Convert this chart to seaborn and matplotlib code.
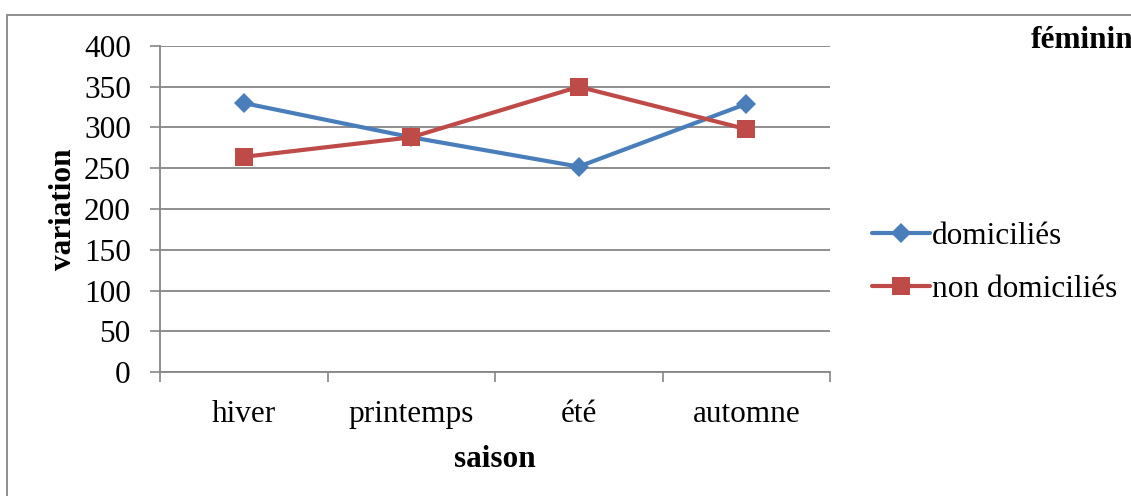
import matplotlib
matplotlib.use("Agg")
import matplotlib.pyplot as plt
import seaborn as sns
import pandas as pd
from matplotlib.patches import Rectangle

saisons = ["hiver", "printemps", "été", "automne"]
domicilies = [330, 288, 252, 329]
non_domicilies = [264, 288, 350, 298]
series_names = ["domiciliés", "non domiciliés"]
y_ticks = [0, 50, 100, 150, 200, 250, 300, 350, 400]

df = pd.DataFrame({
    "saison": saisons * 2,
    "variation": domicilies + non_domicilies,
    "type": [series_names[0]] * 4 + [series_names[1]] * 4,
})

sns.set_style("white")
plt.rcParams["font.family"] = ["Liberation Serif", "DejaVu Serif"]
plt.rcParams["text.color"] = "black"
plt.rcParams["axes.labelcolor"] = "black"
plt.rcParams["xtick.color"] = "black"
plt.rcParams["ytick.color"] = "black"

FS = 22.5

fig = plt.figure(figsize=(11.31, 4.96), dpi=100)
ax = fig.add_axes([160 / 1131, 1 - 372 / 496, (830 - 160) / 1131, (372 - 46) / 496])

grid_col = "#868686"
sns.lineplot(data=df, x="saison", y="variation", hue="type", style="type",
             markers={series_names[0]: "D", series_names[1]: "s"}, dashes=False,
             palette={series_names[0]: "#4A7EBB", series_names[1]: "#BE4B48"},
             linewidth=3.0, markersize=13.5, markeredgewidth=0, ax=ax, legend=True, zorder=3)
for line in ax.get_lines():
    if line.get_marker() == "D":
        line.set_markersize(10.5)

ax.set_ylim(0, 400)
ax.set_xlim(-0.5, 3.5)
ax.set_yticks(y_ticks)
ax.set_yticklabels([str(v) for v in y_ticks], fontsize=FS)
ax.set_xticks(range(4))
ax.set_xticklabels(saisons, fontsize=FS)
ax.tick_params(axis="x", length=0, pad=20)
ax.tick_params(axis="y", length=7, width=1.2, color=grid_col, labelcolor="black", pad=14,
               direction="out", left=True)
ax.set_xticks([-0.5, 0.5, 1.5, 2.5, 3.5], minor=True)
ax.tick_params(axis="x", which="minor", length=7, width=1.2, color=grid_col, direction="out", bottom=True)

ax.grid(axis="y", color=grid_col, linewidth=1.3, zorder=0)
ax.set_axisbelow(True)
for s in ["top", "right"]:
    ax.spines[s].set_visible(False)
for s in ["left", "bottom"]:
    ax.spines[s].set_color(grid_col)
    ax.spines[s].set_linewidth(1.3)

ax.set_xlabel("saison", fontsize=FS, fontweight="bold", labelpad=12)
ax.set_ylabel("variation", fontsize=FS, fontweight="bold", labelpad=4)

handles, labels = ax.get_legend_handles_labels()
ax.get_legend().remove()
fig.legend(handles, labels, loc="center left", bbox_to_anchor=(844 / 1131, 1 - 263 / 496),
           frameon=False, fontsize=FS, handlelength=1.85, handletextpad=0.05, labelspacing=0.75)

fig.text(1031 / 1131, 1 - 40 / 496, "féminin", fontsize=FS, fontweight="bold",
         ha="left", va="center")

fig.patches.append(Rectangle((7 / 1131, -0.1), 1.2, 1 - 15 / 496 + 0.1, transform=fig.transFigure,
                             fill=False, edgecolor="#868686", linewidth=1.3))

fig.savefig("out.png", dpi=100)
